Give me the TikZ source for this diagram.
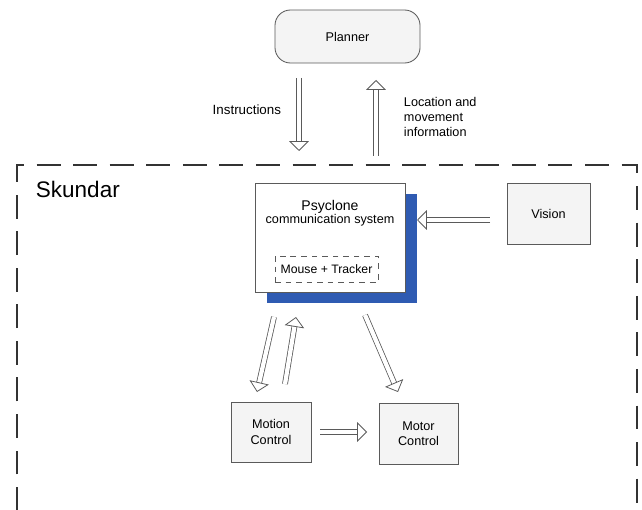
\documentclass[tikz,border=0pt]{standalone}
\usepackage{fontspec}
\setmainfont{Liberation Sans}
\usetikzlibrary{arrows.meta,shadows}
\definecolor{boxline}{RGB}{90,90,90}
\definecolor{boxfill}{RGB}{244,244,244}
\definecolor{psyblue}{RGB}{47,91,178}
\begin{document}
\begin{tikzpicture}[x=0.025cm, y=-0.025cm,
    font=\fontsize{9}{11}\selectfont,
    unit/.style={draw=boxline, fill=boxfill, line width=0.6pt, align=center, inner sep=0pt},
    hollow/.style={draw=boxline, line width=0.55pt, double=white, double distance=3pt,
      -{Triangle[open, length=7pt, width=14pt, fill=white]}}]
  \useasboundingbox (0,0) rectangle (642,510);

  \node (plan) [unit, rounded corners=11pt, minimum width=3.625cm, minimum height=1.325cm]
    at (347.5,36.5) {Planner};

  \draw [black!80, line width=1.1pt, dash pattern=on 17pt off 9pt] (17,511) -- (17,165) -- (637,165) -- (637,511);
  \node (skd) [anchor=west, font=\fontsize{16}{19}\selectfont] at (31,189) {Skundar};

  \node (psy) [draw=boxline, fill=white, line width=0.6pt, minimum width=3.75cm, minimum height=2.725cm,
    drop shadow={shadow xshift=0.3cm, shadow yshift=-0.28cm, fill=psyblue, opacity=1}]
    at (330,237.5) {};
  \node (psytxt) [align=center, font=\fontsize{10}{11}\selectfont] at (330,213)
    {Psyclone\\[-1.5pt]{\fontsize{9}{10}\selectfont communication system}};
  \node (mt) [draw=boxline, line width=0.6pt, dash pattern=on 4pt off 3.5pt,
    minimum width=2.575cm, minimum height=0.65cm, font=\fontsize{8.7}{10}\selectfont]
    at (326.5,269) {Mouse + Tracker};

  \node (vis) [unit, minimum width=2.075cm, minimum height=1.525cm] at (548.5,213.5) {Vision};
  \node (moc) [unit, minimum width=2cm, minimum height=1.5cm] at (271,432) {Motion\\Control};
  \node (mtc) [unit, minimum width=1.975cm, minimum height=1.525cm] at (418.5,433.5) {Motor\\Control};

  \node (ins) [anchor=east, font=\fontsize{9.5}{11}\selectfont] at (286,110) {Instructions};
  \node (loc) [anchor=west, align=left] at (399,117) {Location and\\movement\\information};

  \coordinate (a1) at (299,78);  \coordinate (a2) at (299,151);
  \coordinate (b1) at (376,156); \coordinate (b2) at (376,80);
  \coordinate (c1) at (490,220); \coordinate (c2) at (417,220);
  \coordinate (d1) at (274,317); \coordinate (d2) at (257,392);
  \coordinate (e1) at (285,384); \coordinate (e2) at (296,317);
  \coordinate (f1) at (365,315); \coordinate (f2) at (398,392);
  \coordinate (g1) at (320,432); \coordinate (g2) at (367,432);

  \draw [hollow] (a1) -- (a2);
  \draw [hollow] (b1) -- (b2);
  \draw [hollow] (c1) -- (c2);
  \draw [hollow] (d1) -- (d2);
  \draw [hollow] (e1) -- (e2);
  \draw [hollow] (f1) -- (f2);
  \draw [hollow] (g1) -- (g2);
\end{tikzpicture}
\end{document}
